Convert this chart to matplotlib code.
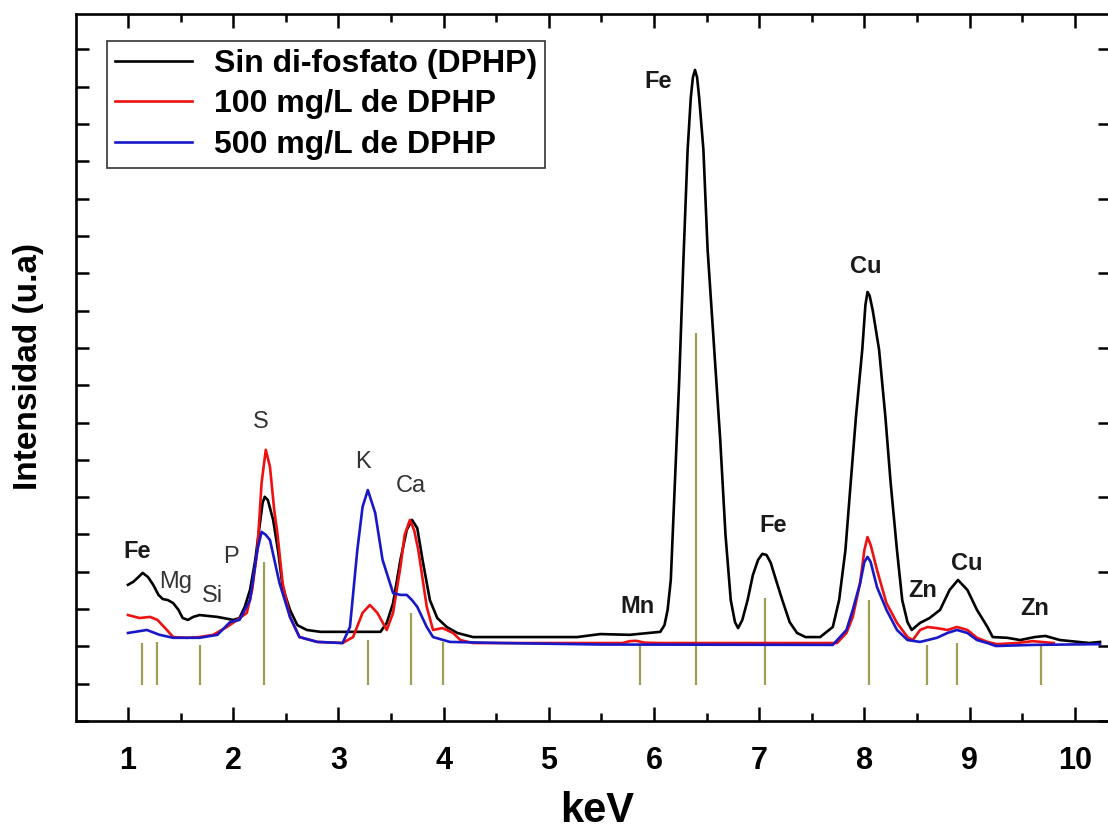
import matplotlib
matplotlib.use('Agg')
import matplotlib.pyplot as plt
from matplotlib.ticker import MultipleLocator, NullFormatter

plt.rcParams['font.family'] = ['Liberation Sans', 'DejaVu Sans']

# ---------------- data (keV, intensity in arbitrary units) ----------------
black_pts = [(1.00, 3.65), (1.05, 3.73), (1.10, 3.86), (1.14, 3.97), (1.19, 3.86), (1.24, 3.65),
             (1.29, 3.38), (1.33, 3.27), (1.38, 3.24), (1.43, 3.16), (1.48, 2.98), (1.52, 2.76),
             (1.57, 2.71), (1.62, 2.79), (1.68, 2.84), (1.85, 2.79), (2.00, 2.71), (2.06, 2.76),
             (2.11, 3.06), (2.16, 3.51), (2.21, 4.32), (2.25, 5.20), (2.28, 5.85), (2.30, 6.01),
             (2.33, 5.92), (2.38, 5.39), (2.43, 4.50), (2.47, 3.59), (2.54, 2.98), (2.61, 2.57),
             (2.70, 2.44), (2.83, 2.39), (3.27, 2.39), (3.40, 2.39), (3.46, 2.63), (3.52, 3.16),
             (3.59, 4.32), (3.65, 5.12), (3.70, 5.39), (3.75, 5.17), (3.80, 4.32), (3.87, 3.24),
             (3.94, 2.76), (4.03, 2.52), (4.13, 2.36), (4.28, 2.25), (4.54, 2.25), (5.27, 2.25),
             (5.49, 2.33), (5.77, 2.31), (6.06, 2.39), (6.10, 2.57), (6.13, 2.98), (6.16, 3.78),
             (6.20, 6.46), (6.24, 9.14), (6.28, 12.36), (6.32, 15.31), (6.35, 16.70), (6.37, 17.25),
             (6.39, 17.45), (6.41, 17.25), (6.43, 16.70), (6.47, 15.31), (6.51, 12.63), (6.57, 10.08),
             (6.63, 7.53), (6.68, 4.99), (6.73, 3.24), (6.77, 2.65), (6.80, 2.49), (6.84, 2.71),
             (6.89, 3.24), (6.94, 3.91), (6.99, 4.32), (7.03, 4.48), (7.07, 4.45), (7.11, 4.24),
             (7.16, 3.78), (7.22, 3.24), (7.29, 2.65), (7.36, 2.36), (7.44, 2.25), (7.58, 2.25),
             (7.70, 2.52), (7.76, 3.24), (7.82, 4.58), (7.87, 6.38), (7.92, 8.15), (7.98, 9.95),
             (8.01, 11.15), (8.03, 11.50), (8.05, 11.40), (8.08, 11.00), (8.14, 9.95), (8.20, 8.15),
             (8.25, 6.38), (8.31, 4.58), (8.36, 3.24), (8.41, 2.65), (8.45, 2.44), (8.53, 2.63),
             (8.62, 2.76), (8.72, 2.98), (8.81, 3.51), (8.89, 3.78), (8.98, 3.51), (9.07, 2.98),
             (9.17, 2.52), (9.22, 2.25), (9.36, 2.23), (9.48, 2.17), (9.62, 2.25), (9.72, 2.28),
             (9.86, 2.17), (10.14, 2.09), (10.24, 2.12)]

red_pts = [(1.00, 2.84), (1.11, 2.76), (1.21, 2.79), (1.28, 2.71), (1.37, 2.44), (1.43, 2.25),
           (1.56, 2.23), (1.68, 2.25), (1.81, 2.31), (1.94, 2.52), (2.04, 2.71), (2.13, 2.90),
           (2.18, 3.51), (2.23, 4.58), (2.27, 6.38), (2.31, 7.27), (2.35, 6.81), (2.39, 5.66),
           (2.42, 5.04), (2.47, 3.70), (2.54, 2.79), (2.63, 2.25), (2.80, 2.12), (3.04, 2.09),
           (3.14, 2.25), (3.23, 2.90), (3.30, 3.11), (3.37, 2.90), (3.46, 2.44), (3.52, 2.90),
           (3.59, 4.13), (3.63, 4.99), (3.68, 5.39), (3.72, 5.12), (3.76, 4.58), (3.84, 3.06),
           (3.90, 2.44), (3.99, 2.49), (4.09, 2.36), (4.16, 2.17), (4.28, 2.09), (5.70, 2.09),
           (5.77, 2.14), (5.83, 2.15), (5.91, 2.10), (6.06, 2.09), (7.74, 2.09), (7.83, 2.36),
           (7.89, 2.79), (7.96, 3.70), (8.00, 4.58), (8.03, 4.93), (8.06, 4.72), (8.12, 4.05),
           (8.21, 3.16), (8.31, 2.63), (8.41, 2.25), (8.46, 2.17), (8.53, 2.44), (8.60, 2.52),
           (8.69, 2.49), (8.79, 2.44), (8.88, 2.52), (8.98, 2.44), (9.07, 2.23), (9.17, 2.12),
           (9.26, 2.06), (9.45, 2.09), (9.60, 2.14), (9.68, 2.12), (9.80, 2.09)]

blue_pts = [(1.00, 2.36), (1.18, 2.44), (1.30, 2.31), (1.43, 2.23), (1.68, 2.23), (1.85, 2.31),
            (1.97, 2.65), (2.06, 2.71), (2.16, 3.24), (2.23, 4.58), (2.27, 5.07), (2.31, 4.99),
            (2.35, 4.85), (2.44, 3.70), (2.54, 2.79), (2.63, 2.25), (2.80, 2.12), (3.04, 2.09),
            (3.11, 2.52), (3.18, 4.58), (3.23, 5.74), (3.28, 6.19), (3.35, 5.58), (3.42, 4.32),
            (3.52, 3.43), (3.59, 3.38), (3.65, 3.38), (3.70, 3.24), (3.75, 3.06), (3.84, 2.52),
            (3.90, 2.25), (4.06, 2.12), (4.54, 2.09), (5.50, 2.05), (7.70, 2.04), (7.83, 2.44),
            (7.89, 2.98), (7.96, 3.70), (8.00, 4.26), (8.03, 4.40), (8.06, 4.26), (8.12, 3.59),
            (8.21, 2.98), (8.31, 2.44), (8.41, 2.17), (8.53, 2.12), (8.69, 2.23), (8.79, 2.36),
            (8.88, 2.44), (8.98, 2.36), (9.07, 2.17), (9.17, 2.09), (9.25, 2.01), (9.60, 2.04),
            (10.24, 2.06)]

black_x = [p[0] for p in black_pts]
black_y = [p[1] for p in black_pts]
red_x = [p[0] for p in red_pts]
red_y = [p[1] for p in red_pts]
blue_x = [p[0] for p in blue_pts]
blue_y = [p[1] for p in blue_pts]

series_labels = ['Sin di-fosfato (DPHP)', '100 mg/L de DPHP', '500 mg/L de DPHP']

# reference emission lines (energy, top of the marker)
line_x = [1.13, 1.28, 1.68, 2.29, 3.28, 3.69, 3.99, 5.87, 6.40, 7.06, 8.04, 8.60, 8.88, 9.68]
line_top = [2.09, 2.12, 2.04, 4.26, 2.17, 2.90, 2.12, 2.04, 10.40, 3.30, 3.24, 2.04, 2.09, 2.04]

# element labels: text, x, y (baseline), bold
elem_text = ['Fe', 'Mg', 'Si', 'P', 'S', 'K', 'Ca', 'Mn', 'Fe', 'Fe', 'Cu', 'Zn', 'Cu', 'Zn']
elem_x = [1.09, 1.45, 1.80, 1.98, 2.26, 3.23, 3.69, 5.84, 6.04, 7.13, 8.01, 8.55, 8.97, 9.62]
elem_y = [4.37, 3.57, 3.19, 4.24, 7.86, 6.78, 6.14, 2.90, 16.97, 5.07, 12.01, 3.32, 4.05, 2.84]
elem_bold = [True, False, False, False, False, False, False, True, True, True, True, True, True, True]

# ---------------- figure ----------------
fig = plt.figure(figsize=(11.08, 8.32), dpi=100)
ax = fig.add_axes([0.0686, 0.1334, 0.9332, 0.8498])

ax.vlines(line_x, 0.97, line_top, color='#a09d55', lw=1.6, zorder=1)

ax.plot(black_x, black_y, color='black', lw=1.9, label=series_labels[0], zorder=2)
ax.plot(red_x, red_y, color='#ee1111', lw=1.9, label=series_labels[1], zorder=3)
ax.plot(blue_x, blue_y, color='#1818c8', lw=1.9, label=series_labels[2], zorder=4)

for t, x, y, b in zip(elem_text, elem_x, elem_y, elem_bold):
    ax.text(x, y, t, ha='center', va='baseline', fontsize=17,
            fontweight='bold' if b else 'normal', color='#1a1a1a' if b else '#333333')

ax.set_xlim(0.506, 10.335)
ax.set_ylim(0, 18.95)

ax.xaxis.set_major_locator(MultipleLocator(1))
ax.xaxis.set_minor_locator(MultipleLocator(0.5))
ax.yaxis.set_major_locator(MultipleLocator(2))
ax.yaxis.set_minor_locator(MultipleLocator(1))
ax.yaxis.set_major_formatter(NullFormatter())

ax.tick_params(axis='x', which='both', direction='in', top=True, bottom=True, width=1.8)
ax.tick_params(axis='x', which='major', length=10, labelsize=22, pad=18)
ax.tick_params(axis='x', which='minor', length=6)
ax.tick_params(axis='y', which='both', direction='in', left=True, right=True, width=1.8, length=9)
ax.tick_params(axis='y', which='minor', right=False)
ax.set_xticks(range(1, 11))
ax.set_xticklabels([str(i) for i in range(1, 11)], fontweight='bold')

for s in ax.spines.values():
    s.set_linewidth(1.9)

leg = ax.legend(loc='upper left', bbox_to_anchor=(0.030, 0.962), borderaxespad=0,
                prop={'size': 23, 'weight': 'bold'}, handlelength=2.4, handletextpad=0.7,
                labelspacing=0.33, borderpad=0.25, fancybox=False, framealpha=1,
                edgecolor='#333333')
leg.get_frame().set_linewidth(1.2)

fig.text(29 / 1108, 1 - 366 / 832, 'Intensidad (u.a)', rotation=90, ha='center', va='center',
         fontsize=24, fontweight='bold')
fig.text(597 / 1108, 1 - 822 / 832, 'keV', ha='center', va='baseline', fontsize=30,
         fontweight='bold')

fig.savefig('out.png', dpi=100)
